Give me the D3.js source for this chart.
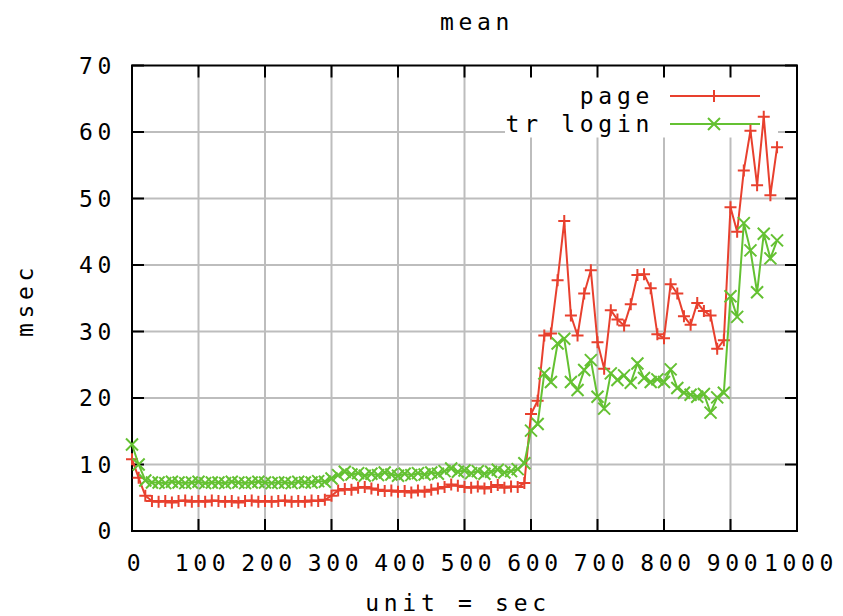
<!DOCTYPE html>
<html lang="en">
<head>
<meta charset="UTF-8">
<title>mean</title>
<script src="https://d3js.org/d3.v7.min.js"></script>
<style>
    body{margin:0;background:#fff;}
    .chart text{
        font-family: "DejaVu Sans Mono", monospace;
        font-size: 23px;
        letter-spacing: 4.7px;
        fill: #000;
    }
    .grid line{stroke:#bdbdbd;stroke-width:2;}
</style>
</head>
<body>
<svg class="chart"></svg>
<script>
// sample times (sec), one point every 10 s
let times = d3.range(0, 980, 10);

let pageMean = [
    10.8, 8.0, 5.3, 4.5,
    4.4, 4.5, 4.3, 4.5, 4.6, 4.4, 4.5, 4.4, 4.6, 4.5, 4.4, 4.5, 4.3,
    4.5, 4.6, 4.4, 4.5, 4.4, 4.5, 4.6, 4.4, 4.5, 4.4, 4.6, 4.5, 4.7,
    5.3, 6.1, 6.3, 6.2, 6.5, 6.6, 6.4, 6.2, 6.0, 6.1,
    5.9, 6.0, 5.8, 6.1, 5.9, 6.2, 6.4, 6.6, 7.0, 6.8,
    6.6, 6.5, 6.7, 6.4, 6.6, 6.9, 6.5, 6.7, 6.6, 7.2,
    17.6, 19.6, 29.4, 29.7, 37.7, 46.6, 32.4, 29.4, 35.7, 39.2,
    28.4, 24.4, 33.2, 31.8, 30.9, 34.1, 38.5, 38.6, 36.5, 29.6,
    29.0, 37.1, 35.7, 32.3, 31.0, 34.3, 33.1, 32.4, 27.4, 28.7,
    48.7, 45.0, 54.2, 60.2, 52.0, 62.3, 50.5, 57.7
];

let loginMean = [
    13.0, 10.0, 7.6, 7.3,
    7.3, 7.2, 7.4, 7.3, 7.2, 7.3, 7.4, 7.2, 7.3, 7.3, 7.2, 7.4, 7.3,
    7.2, 7.3, 7.4, 7.3, 7.2, 7.3, 7.3, 7.2, 7.4, 7.3, 7.3, 7.5, 7.4,
    7.9, 8.4, 8.9, 8.5, 8.7, 8.3, 8.6, 8.4, 8.8, 8.5,
    8.3, 8.6, 8.4, 8.7, 8.5, 8.8, 8.6, 9.0, 9.4, 8.9,
    9.1, 8.7, 9.0, 8.6, 8.9, 9.2, 8.8, 9.0, 9.3, 10.2,
    15.1, 16.1, 23.7, 22.4, 28.2, 28.9, 22.4, 21.2, 24.2, 25.7,
    20.2, 18.4, 23.7, 22.7, 23.4, 22.3, 25.2, 23.0, 22.4, 22.8,
    22.4, 24.3, 21.5, 20.8, 20.5, 20.2, 20.6, 17.8, 20.1, 20.8,
    35.3, 32.2, 46.3, 42.2, 35.9, 44.7, 41.0, 43.7
];

let xTicks = [0, 100, 200, 300, 400, 500, 600, 700, 800, 900, 1000];
let yTicks = [0, 10, 20, 30, 40, 50, 60, 70];

let series = [
    {name:'page', values:pageMean, color:'#e8402e', mark:'plus'},
    {name:'tr login', values:loginMean, color:'#64c132', mark:'cross'}
];

let W = 843, H = 616;
let margin = {top:65.5, right:46, bottom:85, left:132};

let x = d3.scaleLinear().domain([0, 1000]).range([margin.left, W - margin.right]);
let y = d3.scaleLinear().domain([0, 70]).range([H - margin.bottom, margin.top]);

let svg = d3.select('.chart').attr('width', W).attr('height', H);

// grid
let grid = svg.append('g').attr('class', 'grid');
grid.selectAll('.gx').data(xTicks.slice(1, -1)).enter().append('line')
    .attr('x1', d => x(d)).attr('x2', d => x(d))
    .attr('y1', y(0)).attr('y2', y(70));
grid.selectAll('.gy').data(yTicks.slice(1, -1)).enter().append('line')
    .attr('y1', d => y(d)).attr('y2', d => y(d))
    .attr('x1', x(0)).attr('x2', x(1000));

// legend background hides grid under the key
svg.append('rect')
    .attr('x', 505).attr('y', y(70) + 1)
    .attr('width', 273).attr('height', 71)
    .attr('fill', '#fff');

// frame and ticks
let tick = 12;
let axes = svg.append('g').attr('stroke', '#000').attr('stroke-width', 2);
axes.append('rect')
    .attr('x', x(0)).attr('y', y(70))
    .attr('width', x(1000) - x(0)).attr('height', y(0) - y(70))
    .attr('fill', 'none');
xTicks.forEach(t => {
    axes.append('line').attr('x1', x(t)).attr('x2', x(t)).attr('y1', y(0)).attr('y2', y(0) - tick);
    axes.append('line').attr('x1', x(t)).attr('x2', x(t)).attr('y1', y(70)).attr('y2', y(70) + tick);
});
yTicks.forEach(t => {
    axes.append('line').attr('y1', y(t)).attr('y2', y(t)).attr('x1', x(0)).attr('x2', x(0) + tick);
    axes.append('line').attr('y1', y(t)).attr('y2', y(t)).attr('x1', x(1000)).attr('x2', x(1000) - tick);
});

// tick labels
svg.selectAll('.xl').data(xTicks).enter().append('text')
    .attr('x', d => x(d) + 4).attr('y', 571)
    .attr('text-anchor', 'middle')
    .text(d => d);
svg.selectAll('.yl').data(yTicks).enter().append('text')
    .attr('x', 116).attr('y', d => y(d) + 8)
    .attr('text-anchor', 'end')
    .text(d => d);

// titles
svg.append('text').attr('x', 477).attr('y', 30).attr('text-anchor', 'middle').text('mean');
svg.append('text').attr('x', 458).attr('y', 611).attr('text-anchor', 'middle').text('unit = sec');
svg.append('text')
    .attr('transform', 'translate(33,300) rotate(-90)')
    .attr('text-anchor', 'middle').text('msec');

function marker(g, mark, color){
    let s = 6;
    let p = mark == 'plus'
        ? `M${-s},0H${s}M0,${-s}V${s}`
        : `M${-s},${-s}L${s},${s}M${-s},${s}L${s},${-s}`;
    return g.append('path').attr('d', p).attr('stroke', color)
        .attr('stroke-width', 2).attr('fill', 'none');
}

// legend
let keyY = [96, 124];
series.forEach((s, i) => {
    svg.append('text').attr('x', 654).attr('y', keyY[i] + 8)
        .attr('text-anchor', 'end').text(s.name);
    svg.append('line').attr('x1', 670).attr('x2', 760)
        .attr('y1', keyY[i]).attr('y2', keyY[i])
        .attr('stroke', s.color).attr('stroke-width', 2);
    let g = svg.append('g').attr('transform', `translate(714,${keyY[i]})`);
    marker(g, s.mark, s.color);
});

// data
let line = d3.line().x((d, i) => x(times[i])).y(d => y(d));
series.forEach(s => {
    svg.append('path').datum(s.values)
        .attr('d', line).attr('fill', 'none')
        .attr('stroke', s.color).attr('stroke-width', 2);
    s.values.forEach((v, i) => {
        let g = svg.append('g').attr('transform', `translate(${x(times[i])},${y(v)})`);
        marker(g, s.mark, s.color);
    });
});
</script>
</body>
</html>
